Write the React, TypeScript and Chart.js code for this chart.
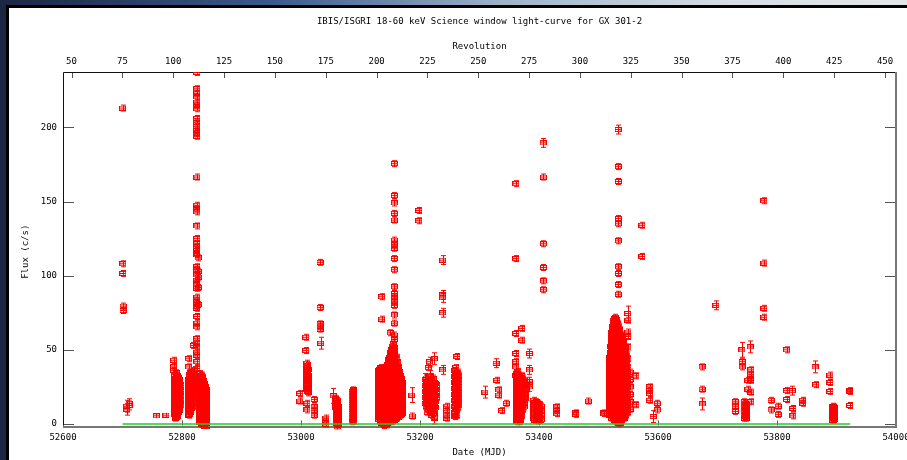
import { useEffect, useRef } from "react";
import { Chart, registerables } from "chart.js";

Chart.register(...registerables);

// ---- text ----
const TITLE = "IBIS/ISGRI 18-60 keV Science window light-curve for GX 301-2";
const TOP_AXIS_TITLE = "Revolution";
const X_AXIS_TITLE = "Date (MJD)";
const Y_AXIS_TITLE = "Flux (c/s)";

// ---- axes ----
const mjdTicks = [52600, 52800, 53000, 53200, 53400, 53600, 53800, 54000];
const fluxTicks = [0, 50, 100, 150, 200];
const revTicks = [50, 75, 100, 125, 150, 175, 200, 225, 250, 275, 300, 325, 350, 375, 400, 425, 450];
const MJD_RANGE = [52600, 54000];
const FLUX_RANGE = [-1, 237.3];
// INTEGRAL revolution numbers spanning the same dates
const REV_RANGE = [45.8, 455.4];

// zero-flux reference line (MJD)
const zeroLineMjd = [52700, 53923];

// ---- science window fluxes ----
// Each row: [MJD, flux error (c/s), fluxes of the science windows at that date (c/s)...]
const revs075to090 = [
  [52700, 2, 213],
  [52700.5, 2, 108, 101.5],
  [52701, 2, 79.5, 76.5],
  [52707, 4, 12, 10],
  [52711, 3, 14, 12.5],
  [52757, 1.5, 5.5],
  [52773, 1.5, 6],
];

const revs100to115 = [
  [52786, 2, 43, 38.5, 36],
  [52787.5, 2, 33.5, 30.5, 27.5, 24.5, 21.5, 18.5, 15.5, 12.5, 9.5, 6.5],
  [52789, 2, 31, 28, 25, 22, 19, 16, 13, 10, 7, 4],
  [52790.5, 2, 34.5, 31.5, 28.5, 25.5, 22.5, 19.5, 16.5, 13.5, 10.5, 7.5, 4.5],
  [52792, 2, 33, 29, 26, 23, 20, 17, 14, 11, 8, 5],
  [52793.5, 2, 31.5, 28.5, 25.5, 22.5, 19.5, 16.5, 13.5, 10.5, 7.5],
  [52795, 2, 30, 27, 24, 21, 18, 15, 12, 9],
  [52796.5, 2, 28.5, 25.5, 22.5, 19.5, 16.5, 13.5, 10.5],
  [52798, 2, 26, 22, 19, 16, 13],
  [52811, 2, 44, 38.5, 30, 27, 24, 21, 18, 15, 12, 9, 6],
  [52812.5, 2, 33.5, 30.5, 27.5, 24.5, 21.5, 18.5, 15.5, 12.5, 9.5, 6.5],
  [52814, 2, 35, 32, 29, 26, 23, 20, 17, 14, 11, 8],
  [52815.5, 2, 34.5, 31.5, 28.5, 25.5, 22.5, 19.5, 16.5, 13.5, 10.5],
  [52818, 2, 33, 30, 27, 24, 21, 18, 15, 12],
  [52819, 2, 53],
  [52819.5, 2, 34.5, 29.5, 26.5, 23.5, 20.5, 17.5, 14.5],
  [52821, 2, 36, 31, 28, 25],
  [52825, 2, 237, 226, 223, 220.5, 217, 215, 212.5, 206, 203.5, 200.5, 198, 196, 194, 166.5, 147.5, 145, 143,
    133.5, 125, 121.5, 119.5, 117, 115, 114, 106, 104, 100.5, 97, 94.5, 91.5, 85.5, 83.5, 81.5, 79, 78, 72.5,
    68, 65.5, 57.5, 54.5, 52, 48.5, 46.5, 42, 37.5, 34],
  [52827, 2, 112, 103, 99, 92, 80.5],
  [52830, 2, 34, 31, 28, 25, 22, 19, 16, 13, 10, 7, 4, 1],
  [52831.5, 2, 32.5, 29.5, 26.5, 23.5, 20.5, 17.5, 14.5, 11.5, 8.5, 5.5, 2.5],
  [52833, 2, 33, 30, 27, 24, 21, 18, 15, 12, 9, 6, 3, 0],
  [52834.5, 2, 31.5, 28.5, 25.5, 22.5, 19.5, 16.5, 13.5, 10.5, 7.5, 4.5, 1.5],
  [52836, 2, 29, 26, 23, 20, 17, 14, 11, 8, 5, 2, -1],
  [52837.5, 2, 27.5, 24.5, 21.5, 18.5, 15.5, 12.5, 9.5, 6.5, 3.5, 0.5],
  [52839, 2, 25, 22, 19, 16, 13, 10, 7, 4, 1],
  [52840.5, 2, 23.5, 20.5, 17.5, 14.5, 11.5, 8.5, 5.5, 2.5],
  [52842, 2, 20, 17, 14, 11, 8, 5, 2, -1],
];

const revs165to180 = [
  [52998, 2, 20.5, 15.5],
  [53008, 2, 58.5, 49.5],
  [53010, 2, 41, 38, 35, 32, 29, 26, 23, 14, 9.5],
  [53011, 2, 39.5, 36.5, 33.5, 30.5, 27.5, 24.5, 22],
  [53012, 2, 37, 33, 30, 27, 24, 21],
  [53022, 2, 16.5, 11.5, 9, 6],
  [53032, 2, 109, 78.5, 67.5, 66, 64],
  [53033, 4, 54.5],
  [53042, 2, 4, 2, 0],
  [53054, 5, 19],
  [53058, 2, 17, 14, 11],
  [53059.5, 2, 15.5, 12.5, 9.5, 6.5, 3.5, 0.5],
  [53061, 2, 16, 13, 10, 7, 4, 1, -2],
  [53062, 2, 14.5, 11.5, 8.5, 5.5, 2.5, -0.5],
  [53063, 2, 12, 9, 6, 3, 0],
  [53086, 2, 22, 19, 16, 13, 10, 7, 4, 1.5],
  [53087.5, 2, 23, 20.5, 17.5, 14.5, 11.5, 8.5, 5.5, 3],
  [53089, 2, 22.5, 20, 17, 14, 11, 8, 5, 2],
];

const revs200to215 = [
  [53131, 2, 36, 33, 30, 27, 24, 21, 18, 15, 12, 9, 6, 3],
  [53132.5, 2, 37, 34.5, 31.5, 28.5, 25.5, 22.5, 19.5, 16.5, 13.5, 10.5, 7.5, 4.5],
  [53134, 2, 38, 35, 32, 29, 26, 23, 20, 17, 14, 11, 8, 5, 2],
  [53135.5, 2, 85.8, 70.7],
  [53135.5, 2, 37.5, 33.5, 30.5, 27.5, 24.5, 21.5, 18.5, 15.5, 12.5, 9.5, 6.5, 3.5, 0.5],
  [53137, 2, 37, 34, 31, 28, 25, 22, 19, 16, 13, 10, 7, 4, 1],
  [53138.5, 2, 36.5, 33.5, 30.5, 27.5, 24.5, 21.5, 18.5, 15.5, 12.5, 9.5, 6.5, 3.5, 0.5],
  [53140, 2, 38, 35, 32, 29, 26, 23, 20, 17, 14, 11, 8, 5, 2, -1],
  [53141.5, 2, 37.5, 34.5, 31.5, 28.5, 25.5, 22.5, 19.5, 16.5, 13.5, 10.5, 7.5, 4.5, 1.5],
  [53143, 2, 36, 33, 30, 27, 24, 21, 18, 15, 12, 9, 6, 3, 0],
  [53144.5, 2, 38.5, 35.5, 32.5, 29.5, 26.5, 23.5, 20.5, 17.5, 14.5, 11.5, 8.5, 5.5, 2.5, -0.5],
  [53146, 2, 40, 37, 34, 31, 28, 25, 22, 19, 16, 13, 10, 7, 4, 1],
  [53147.5, 2, 43.5, 40.5, 37.5, 34.5, 31.5, 28.5, 25.5, 22.5, 19.5, 16.5, 13.5, 10.5, 7.5, 4.5, 1.5],
  [53149, 2, 45, 42, 39, 36, 33, 30, 27, 24, 21, 18, 15, 12, 9, 6, 3],
  [53150, 2, 61.5],
  [53150.5, 2, 48.5, 45.5, 42.5, 39.5, 36.5, 33.5, 30.5, 27.5, 24.5, 21.5, 18.5, 15.5, 12.5, 9.5, 6.5, 3.5],
  [53152, 2, 50, 47, 44, 41, 38, 35, 32, 29, 26, 23, 20, 17, 14, 11, 8, 5, 2],
  [53153.5, 2, 52.5, 49.5, 46.5, 43.5, 40.5, 37.5, 34.5, 31.5, 28.5, 25.5, 22.5, 19.5, 16.5, 13.5, 10.5, 7.5, 4.5, 1.5],
  [53155, 2, 54, 51, 48, 45, 42, 39, 36, 33, 30, 27, 24, 21, 18, 15, 12, 9, 6, 3],
  [53156.5, 2, 51.5, 48.5, 45.5, 42.5, 39.5, 36.5, 33.5, 30.5, 27.5, 24.5, 21.5, 18.5, 15.5, 12.5, 9.5, 6.5, 3.5],
  [53157, 2, 175.5, 154, 149, 142, 137.5, 124, 121, 118.5, 111.5, 104, 92.5, 88, 85.5, 82.5, 80, 73.5, 68, 60, 57],
  [53158, 2, 42, 39, 36, 33, 30, 27, 24, 21, 18, 15, 12, 9, 6, 3],
  [53159.5, 2, 43.5, 40.5, 37.5, 34.5, 31.5, 28.5, 25.5, 22.5, 19.5, 16.5, 13.5, 10.5, 7.5, 4.5],
  [53161, 2, 45, 40, 37, 34, 31, 28, 25, 22, 19, 16, 13, 10, 7, 4],
  [53162.5, 2, 41.5, 38.5, 35.5, 32.5, 29.5, 26.5, 23.5, 20.5, 17.5, 14.5, 11.5, 8.5, 5.5],
  [53164, 2, 38, 35, 32, 29, 26, 23, 20, 17, 14, 11, 8, 5],
  [53165.5, 2, 35.5, 32.5, 29.5, 26.5, 23.5, 20.5, 17.5, 14.5, 11.5, 8.5, 5.5],
  [53167, 2, 33, 30, 27, 24, 21, 18, 15, 12, 9, 6],
  [53168.5, 2, 30.5, 27.5, 24.5, 21.5, 18.5, 15.5, 12.5, 9.5, 6.5],
  [53170, 2, 28, 25, 22, 19, 16, 13, 10, 7],
  [53186, 5, 19.5],
  [53187, 2, 5.4],
  [53198, 2, 144, 137],
];

const revs220to240 = [
  [53209, 4, 30, 26, 22, 18, 14],
  [53210.5, 2, 31, 28, 24, 20, 16, 12],
  [53212, 2, 28, 24, 20, 16, 12, 8],
  [53214, 2, 38, 30, 26, 22, 18, 14, 10],
  [53216, 3, 42, 33, 27, 23, 19, 15, 11],
  [53218, 2, 32, 28, 24, 20, 16, 12, 8],
  [53220, 2, 30, 26, 22, 18, 14, 10, 6],
  [53222, 2, 31, 27, 23, 19, 15, 11, 7],
  [53224, 4, 44, 28, 24, 20, 16, 12, 7, 4],
  [53226, 2, 27, 23, 19, 15, 11],
  [53228, 2, 26, 22, 18],
  [53238, 3, 110.5, 87, 85, 75, 36.5],
  [53245, 2, 12, 9, 6, 4],
  [53258, 2, 36, 32, 28, 24, 20, 16, 12, 8, 5],
  [53260, 2, 38, 34, 30, 26, 22, 18, 14, 10, 6],
  [53262, 2, 45.5, 34, 30, 26, 22, 18, 14, 10, 6],
  [53263.5, 2, 35, 31, 27, 23, 19, 15, 11],
  [53265, 2, 33, 29, 25, 21, 17, 13],
];

const revs250to285 = [
  [53309, 4, 21.5],
  [53328, 3, 41],
  [53329, 2, 29.5],
  [53332, 2, 23, 19.5],
  [53337, 2, 9],
  [53345, 2, 14],
  [53361, 2, 162, 111.5, 61, 47.5, 42, 38.5, 32.5],
  [53363, 2, 34, 31, 28, 25, 22, 19, 16, 13, 10, 7, 4, 1.5],
  [53364.5, 2, 35.5, 32.5, 29.5, 26.5, 23.5, 20.5, 17.5, 14.5, 11.5, 8.5, 5.5, 2.5],
  [53366, 2, 33, 30, 27, 24, 21, 18, 15, 12, 9, 6, 3],
  [53367.5, 2, 31.5, 28.5, 25.5, 22.5, 19.5, 16.5, 13.5, 10.5, 7.5, 4.5, 1.5],
  [53369, 2, 30, 27, 24, 21, 18, 15, 12, 9, 6, 3],
  [53371, 2, 64.5, 56.5, 32.5, 29.5, 26.5, 23.5, 20.5, 17.5, 14.5, 11.5, 8.5, 5.5],
  [53373, 2, 31, 28, 25, 22, 19, 16, 13, 10],
  [53375, 2, 29.5, 26.5, 23.5, 20.5, 17.5, 14.5, 11.5],
  [53377, 2, 26, 23, 20, 17],
  [53384, 3, 47.5, 36.5, 28.5, 25],
  [53391, 2, 16, 13, 10, 7, 4],
  [53393, 2, 14.5, 11.5, 8.5, 5.5, 2.5],
  [53395, 2, 15, 12, 9, 6, 3],
  [53397, 2, 13.5, 10.5, 7.5, 4.5],
  [53399, 2, 14, 11, 8, 5, 2],
  [53401.5, 2, 13, 10, 7, 4],
  [53404, 2, 12, 9, 6, 3],
  [53407, 3, 189.5],
  [53407.5, 2, 166.5, 121.5, 105.5, 96.5, 90.5],
  [53430, 2, 11.5, 9, 7],
];

const revs300to335 = [
  [53462, 2, 7.5, 6.5],
  [53483, 2, 15.5],
  [53509, 2, 7.5, 7],
  [53519, 2, 45, 42, 39, 36, 33, 30, 27, 24, 21, 18, 15, 12, 9, 6],
  [53520.5, 2, 52, 48.5, 45.5, 42.5, 39.5, 36.5, 33.5, 30.5, 27.5, 24.5, 21.5, 18.5, 15.5, 12.5, 9.5, 6.5],
  [53522, 2, 62, 58, 55, 52, 49, 46, 43, 40, 37, 34, 31, 28, 25, 22, 19, 16, 13, 10, 7, 4],
  [53523.5, 2, 66, 62.5, 59.5, 56.5, 53.5, 50.5, 47.5, 44.5, 41.5, 38.5, 35.5, 32.5, 29.5, 26.5, 23.5, 20.5, 17.5, 14.5, 11.5, 8.5, 5.5],
  [53525, 2, 70, 67, 64, 61, 58, 55, 52, 49, 46, 43, 40, 37, 34, 31, 28, 25, 22, 19, 16, 13, 10, 7, 4],
  [53526.5, 2, 71, 68.5, 65.5, 62.5, 59.5, 56.5, 53.5, 50.5, 47.5, 44.5, 41.5, 38.5, 35.5, 32.5, 29.5, 26.5, 23.5, 20.5, 17.5, 14.5, 11.5, 8.5, 5.5, 2.5],
  [53528, 2, 72, 69, 66, 63, 60, 57, 54, 51, 48, 45, 42, 39, 36, 33, 30, 27, 24, 21, 18, 15, 12, 9, 6, 3],
  [53529.5, 2, 70.5, 67.5, 64.5, 61.5, 58.5, 55.5, 52.5, 49.5, 46.5, 43.5, 40.5, 37.5, 34.5, 31.5, 28.5, 25.5, 22.5, 19.5, 16.5, 13.5, 10.5, 7.5, 4.5, 1.5],
  [53531, 2, 68, 65, 62, 59, 56, 53, 50, 47, 44, 41, 38, 35, 32, 29, 26, 23, 20, 17, 14, 11, 8, 5, 2],
  [53532.5, 2, 67.5, 64.5, 61.5, 58.5, 55.5, 52.5, 49.5, 46.5, 43.5, 40.5, 37.5, 34.5, 31.5, 28.5, 25.5, 22.5, 19.5, 16.5, 13.5, 10.5, 7.5, 4.5, 1.5],
  [53533, 3, 198.5],
  [53533.5, 2, 173.5, 163.5, 138.5, 135, 123.5, 106, 101.5, 94, 87.5],
  [53534, 2, 66, 63, 60, 57, 54, 51, 48, 45, 42, 39, 36, 33, 30, 27, 24, 21, 18, 15, 12, 9, 6, 3, 0.5],
  [53535.5, 2, 63.5, 60.5, 57.5, 54.5, 51.5, 48.5, 45.5, 42.5, 39.5, 36.5, 33.5, 30.5, 27.5, 24.5, 21.5, 18.5, 15.5, 12.5, 9.5, 6.5, 3.5, 1],
  [53537, 2, 60, 56, 52, 49, 46, 43, 40, 37, 34, 31, 28, 25, 22, 19, 16, 13, 10, 7, 4, 1],
  [53538.5, 2, 59.5, 56.5, 53.5, 50.5, 47.5, 44.5, 41.5, 38.5, 35.5, 32.5, 29.5, 26.5, 23.5, 20.5, 17.5, 14.5, 11.5, 8.5, 5.5, 2.5],
  [53540, 2, 58, 55, 52, 49, 46, 43, 40, 37, 34, 31, 28, 25, 22, 19, 16, 13, 10, 7, 4],
  [53541.5, 2, 55.5, 52.5, 49.5, 46.5, 43.5, 40.5, 37.5, 34.5, 31.5, 28.5, 25.5, 22.5, 19.5, 16.5, 13.5, 10.5, 7.5, 4.5],
  [53543, 2, 52, 49, 46, 43, 40, 37, 34, 31, 28, 25, 22, 19, 16, 13, 10, 7, 4],
  [53544.5, 2, 50.5, 47.5, 44.5, 41.5, 38.5, 35.5, 32.5, 29.5, 26.5, 23.5, 20.5, 17.5, 14.5, 11.5, 8.5, 5.5],
  [53546, 2, 48, 45, 42, 39, 36, 33, 30, 27, 24, 21, 18, 15, 12, 9, 6],
  [53547.5, 2, 46.5, 43.5, 40.5, 37.5, 34.5, 31.5, 28.5, 25.5, 22.5, 19.5, 16.5, 13.5, 10.5, 7.5],
  [53549, 5, 74.5],
  [53549.5, 2, 70, 62, 59, 52, 44, 38, 32, 26, 20, 14, 8],
  [53553, 2, 35, 30, 25, 20, 15, 10],
  [53563, 2, 32.5, 13],
  [53573, 2, 134, 113],
  [53586, 2, 25, 22.5, 20.5, 16],
  [53592, 4, 5],
  [53599, 2, 14, 9.5],
];

const revs350to435 = [
  [53674, 2, 38.5, 23.5],
  [53674.5, 4, 13.5],
  [53697, 3, 80],
  [53730, 2, 15, 12, 8.5],
  [53741, 5, 50],
  [53741.5, 2, 42, 38.5],
  [53745, 2, 15, 12, 9, 6, 4],
  [53746.5, 2, 14, 11, 8, 5],
  [53748, 2, 13, 10, 7, 4],
  [53751, 2, 29.5, 23.5],
  [53755, 4, 52],
  [53756, 2, 36.5, 33.5, 31, 29.5, 21.5, 15],
  [53778, 2, 150.5, 108.5, 78, 72],
  [53790, 2, 16, 9.5],
  [53802, 2, 12, 6.5],
  [53816, 2, 50, 22.5, 16.5],
  [53826, 3, 22.5],
  [53826.5, 2, 10.5, 5.5],
  [53843, 2, 16, 14],
  [53864, 4, 38.5],
  [53865, 2, 26.5],
  [53889, 2, 33, 28, 22],
  [53894, 2, 12, 10, 8, 6, 4, 2.5],
  [53895, 2, 11.5, 9.5, 7.5, 5.5, 3.5],
  [53896, 2, 11, 9, 7, 5, 3],
  [53922, 2, 22.5, 22, 12.5],
];

type FluxPoint = { x: number; y: number; err: number };

const toPoints = (rows: number[][]): FluxPoint[] =>
  rows.flatMap(([mjd, err, ...fluxes]) => fluxes.map((f) => ({ x: mjd, y: f, err })));

const lightCurve: FluxPoint[] = [
  revs075to090, revs100to115, revs165to180, revs200to215,
  revs220to240, revs250to285, revs300to335, revs350to435,
].flatMap(toPoints);

// ---- styling ----
const RED = "#ff0000";
const GREEN = "#22cc22";
const FONT = '9px "DejaVu Sans Mono", "Liberation Mono", monospace';
const NAVY = "#1b2642";

// open box with a horizontal bar through it, the gnuplot "box" point
function makeBoxSymbol(): HTMLCanvasElement {
  const c = document.createElement("canvas");
  c.width = 7;
  c.height = 5;
  const g = c.getContext("2d")!;
  g.strokeStyle = RED;
  g.lineWidth = 1;
  g.strokeRect(0.5, 0.5, 6, 4);
  g.beginPath();
  g.moveTo(0, 2.5);
  g.lineTo(7, 2.5);
  g.stroke();
  return c;
}

// border, inward tick marks, tick labels and titles
const gnuplotFrame = {
  id: "gnuplotFrame",
  beforeDatasetsDraw(chart: any) {
    const { ctx, chartArea: a, scales } = chart;
    const xs = scales.x, ys = scales.y, rs = scales.rev;
    ctx.save();

    // tick marks
    ctx.strokeStyle = "#555";
    ctx.lineWidth = 1;
    ctx.beginPath();
    for (const v of fluxTicks) {
      const py = Math.round(ys.getPixelForValue(v)) + 0.5;
      ctx.moveTo(a.left, py);
      ctx.lineTo(a.left + 11, py);
      ctx.moveTo(a.right, py);
      ctx.lineTo(a.right - 11, py);
    }
    for (const v of mjdTicks) {
      const px = Math.round(xs.getPixelForValue(v)) + 0.5;
      ctx.moveTo(px, a.bottom);
      ctx.lineTo(px, a.bottom - 5);
    }
    for (const v of revTicks) {
      const px = Math.round(rs.getPixelForValue(v)) + 0.5;
      ctx.moveTo(px, a.top);
      ctx.lineTo(px, a.top + 6);
    }
    ctx.stroke();

    // border
    ctx.strokeStyle = "#111";
    ctx.beginPath();
    ctx.moveTo(Math.round(a.left) + 0.5, a.bottom);
    ctx.lineTo(Math.round(a.left) + 0.5, Math.round(a.top) + 0.5);
    ctx.lineTo(Math.round(a.right), Math.round(a.top) + 0.5);
    ctx.stroke();
    ctx.strokeStyle = "#777";
    ctx.lineWidth = 2;
    ctx.beginPath();
    ctx.moveTo(Math.round(a.right), Math.round(a.top));
    ctx.lineTo(Math.round(a.right), Math.round(a.bottom) + 1);
    ctx.lineTo(Math.round(a.left), Math.round(a.bottom) + 1);
    ctx.stroke();

    // labels
    ctx.fillStyle = "#000";
    ctx.font = FONT;
    ctx.textBaseline = "middle";
    ctx.textAlign = "right";
    for (const v of fluxTicks) ctx.fillText(String(v), a.left - 6, ys.getPixelForValue(v));
    ctx.textAlign = "center";
    for (const v of mjdTicks) ctx.fillText(String(v), xs.getPixelForValue(v), 438);
    for (const v of revTicks) ctx.fillText(String(v), rs.getPixelForValue(v), 62);
    const cx = (a.left + a.right) / 2;
    ctx.fillText(TITLE, cx, 22);
    ctx.fillText(TOP_AXIS_TITLE, cx, 47);
    ctx.fillText(X_AXIS_TITLE, cx, 453);
    ctx.translate(26, (a.top + a.bottom) / 2 + 3);
    ctx.rotate(-Math.PI / 2);
    ctx.fillText(Y_AXIS_TITLE, 0, 0);
    ctx.restore();
  },
};

// vertical flux error bars with caps
const errorBars = {
  id: "errorBars",
  afterDatasetDraw(chart: any, args: any) {
    if (args.index !== 1) return;
    const { ctx, chartArea: a } = chart;
    const ys = chart.scales.y;
    const pts = chart.data.datasets[1].data as FluxPoint[];
    ctx.save();
    ctx.beginPath();
    ctx.rect(a.left, a.top, a.right - a.left, a.bottom - a.top + 4);
    ctx.clip();
    ctx.strokeStyle = RED;
    ctx.lineWidth = 1;
    ctx.beginPath();
    args.meta.data.forEach((el: any, i: number) => {
      const p = pts[i];
      const px = Math.round(el.x) + 0.5;
      const top = ys.getPixelForValue(p.y + p.err);
      const bot = ys.getPixelForValue(p.y - p.err);
      ctx.moveTo(px, top);
      ctx.lineTo(px, bot);
      if (bot - top > 5) {
        ctx.moveTo(px - 2.5, top);
        ctx.lineTo(px + 2.5, top);
        ctx.moveTo(px - 2.5, bot);
        ctx.lineTo(px + 2.5, bot);
      }
    });
    ctx.stroke();
    ctx.restore();
  },
};

export default function App() {
  const canvasRef = useRef<HTMLCanvasElement>(null);

  useEffect(() => {
    const canvas = canvasRef.current;
    if (!canvas) return;
    const chart = new Chart(canvas, {
      type: "scatter",
      data: {
        datasets: [
          {
            type: "line",
            label: "zero level",
            data: zeroLineMjd.map((m) => ({ x: m, y: 0 })),
            borderColor: GREEN,
            borderWidth: 1.5,
            pointRadius: 0,
          } as any,
          {
            label: "GX 301-2",
            data: lightCurve,
            pointStyle: makeBoxSymbol(),
            pointRadius: 3.5,
            clip: { left: 4, right: 4, top: 0, bottom: 4 },
          } as any,
        ],
      },
      options: {
        animation: false,
        responsive: false,
        devicePixelRatio: 1,
        events: [],
        layout: { padding: { left: 63, top: 72, right: 11, bottom: 34.5 } },
        plugins: {
          legend: { display: false },
          title: { display: false },
          tooltip: { enabled: false },
        },
        scales: {
          x: { type: "linear", min: MJD_RANGE[0], max: MJD_RANGE[1], display: false },
          y: { type: "linear", min: FLUX_RANGE[0], max: FLUX_RANGE[1], display: false },
          rev: { type: "linear", axis: "x", min: REV_RANGE[0], max: REV_RANGE[1], display: false },
        },
      } as any,
      plugins: [gnuplotFrame, errorBars],
    });
    return () => chart.destroy();
  }, []);

  return (
    <div style={{ position: "fixed", left: 0, top: 0, width: 907, height: 460, overflow: "hidden", background: NAVY }}>
      <div
        style={{
          position: "absolute", left: 0, top: 0, width: 907, height: 6,
          background: "linear-gradient(to right, #1b2642 0%, #3a5a8c 30%, #9db2c8 55%, #d5dde2 80%, #e2e6e8 100%)",
        }}
      />
      <div style={{ position: "absolute", left: 6, top: 5, right: 0, bottom: 0, background: "#000" }} />
      <div style={{ position: "absolute", left: 9, top: 8, right: 0, bottom: 0, background: "#fff" }} />
      <canvas ref={canvasRef} width={907} height={460} style={{ position: "absolute", left: 0, top: 0 }} />
    </div>
  );
}
